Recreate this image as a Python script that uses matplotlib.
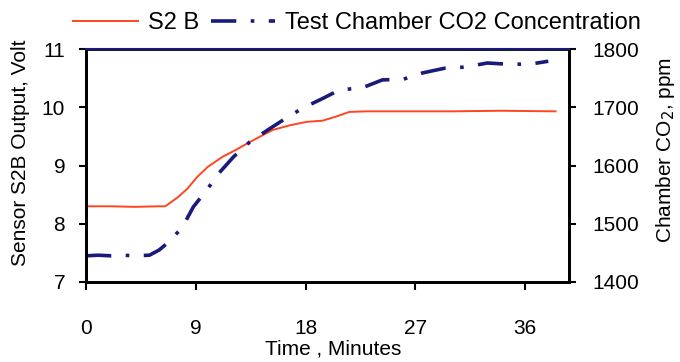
import matplotlib.pyplot as plt

plt.rcParams['font.family'] = ['Liberation Sans', 'DejaVu Sans']

# --- data ---
s2b_time = [0, 2, 4, 6, 6.5, 7.5, 8.3, 9.1, 10.0, 11.2, 12.3, 13.4, 14.3, 15.3, 16.7,
            18.1, 19.4, 20.5, 21.6, 23, 26, 30, 34, 38.5]
s2b_volt = [8.30, 8.30, 8.29, 8.30, 8.30, 8.45, 8.60, 8.80, 8.98, 9.15, 9.27, 9.40, 9.50,
            9.61, 9.69, 9.75, 9.77, 9.84, 9.92, 9.93, 9.93, 9.93, 9.94, 9.93]

co2_time = [0, 1, 2, 3, 4, 5.2, 6.0, 6.8, 7.9, 8.8, 9.9, 10.9, 12.1, 13.4, 14.9, 16.3,
            17.8, 19.3, 20.8, 22.6, 24.3, 26.0, 27.6, 29.4, 31.1, 32.9, 34.5, 36.4, 37.9]
co2_ppm = [1445, 1446, 1445, 1446, 1445, 1446, 1455, 1469, 1494, 1529, 1558, 1587, 1615,
           1640, 1661, 1680, 1699, 1714, 1730, 1733, 1747, 1748, 1759, 1767, 1769, 1776,
           1774, 1774, 1779]

x_ticks = [0, 9, 18, 27, 36]
volt_ticks = [7, 8, 9, 10, 11]
ppm_ticks = [1400, 1500, 1600, 1700, 1800]

red = '#ff4422'
navy = '#1a1a7a'
fs = 15

fig = plt.figure(figsize=(6.8, 3.62), dpi=100)
ax = fig.add_axes([0.1265, 0.221, 0.7103, 0.6436])
ax2 = ax.twinx()

l1, = ax.plot(s2b_time, s2b_volt, color=red, lw=1.4, label='S2 B')
l2, = ax2.plot(co2_time, co2_ppm, color=navy, lw=2.6, dashes=(7, 4, 1, 4),
               label='Test Chamber CO2 Concentration')

ax.set_xlim(0, 39.6)
ax.set_ylim(7, 11)
ax2.set_ylim(1400, 1800)
ax.set_xticks(x_ticks)
ax.set_yticks(volt_ticks)
ax2.set_yticks(ppm_ticks)

ax.tick_params(axis='x', direction='out', length=6, width=1.5, pad=21, labelsize=fs)
ax.tick_params(axis='y', direction='out', length=5, width=1.5, pad=10, labelsize=fs)
ax2.tick_params(axis='y', direction='out', length=5, width=1.5, pad=12, labelsize=fs)

for a in (ax, ax2):
    for s in a.spines.values():
        s.set_linewidth(2)
        s.set_color('black')
ax2.spines['top'].set_color(navy)
ax2.spines['top'].set_linewidth(1.5)

ax.set_ylabel('Sensor S2B Output, Volt', fontsize=fs)
ax.yaxis.set_label_coords(-0.115, 0.554)
ax2.set_ylabel('Chamber CO$_2$, ppm', fontsize=fs)
ax2.yaxis.set_label_coords(1.176, 0.567)
fig.text(0.49, 0.036, 'Time , Minutes', fontsize=fs, ha='center', va='center')

fig.legend(handles=[l1, l2], loc='upper center', bbox_to_anchor=(0.525, 1.025),
           ncol=2, frameon=False, fontsize=17, handlelength=2.75,
           columnspacing=0.5, handletextpad=0.42)

fig.savefig('out.png', dpi=100)
